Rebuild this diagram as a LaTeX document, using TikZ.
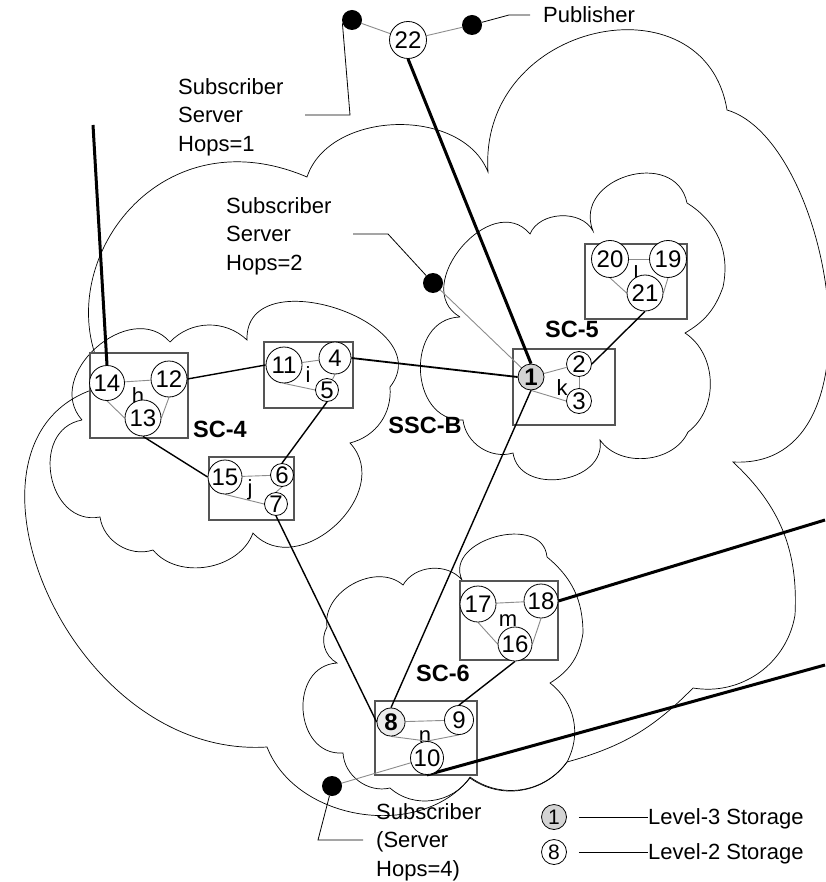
\documentclass[tikz,border=0pt]{standalone}
\usepackage{fontspec}
\setmainfont{Liberation Sans}
\definecolor{linkgray}{RGB}{140,140,140}
\definecolor{boxgray}{RGB}{85,85,85}
\definecolor{levthree}{RGB}{212,212,212}
\definecolor{levtwo}{RGB}{236,236,236}
\pgfdeclarelayer{clouds}
\pgfdeclarelayer{wires}
\pgfsetlayers{clouds,wires,main}
\tikzset{
  stor/.style={circle, draw, fill=white, inner sep=0.3pt, line width=0.8pt,
    font=\fontsize{24}{26}\selectfont},
  hub/.style={stor, font=\fontsize{24}{26}\selectfont\bfseries},
  peer/.style={circle, fill=black, minimum size=20pt, inner sep=0pt},
  grp/.style={draw=boxgray, fill=white, line width=1.2pt},
  cloudline/.style={line width=0.7pt},
  lobe/.style 2 args={bend left=#1, looseness=#2},
  link/.style={draw=linkgray, line width=0.9pt},
  trunk/.style={line width=1.4pt},
  backbone/.style={line width=3pt},
  lead/.style={line width=0.8pt},
  tag/.style={font=\fontsize{22}{28.5}\selectfont, inner sep=0pt},
  sclabel/.style={font=\fontsize{23.5}{28}\selectfont\bfseries, inner sep=0pt},
}
\begin{document}
\begin{tikzpicture}[x=1pt,y=-1pt]
    \useasboundingbox (0,0) rectangle (825,882);
    % Free ends of the long links and of the leaders
    \coordinate (ext-a) at (93,125);
    \coordinate (ext-b) at (825,520);
    \coordinate (ext-c) at (825,665);
    \coordinate (pub-knee) at (509,15);
    \coordinate (pub-end) at (530,15);
    \coordinate (h1-knee) at (350,115);
    \coordinate (h1-end) at (305,115);
    \coordinate (h2-end) at (353,234);
    \coordinate (h2-knee) at (388,234);
    \coordinate (h4-knee) at (318,840);
    \coordinate (h4-end) at (363,840);
    % Storage nodes
    \node[stor, minimum size=37pt] (n22) at (408,40) {22};
    \node[hub, minimum size=26pt, fill=levthree] (n1) at (531,377) {1};
    \node[stor, minimum size=25pt] (n2) at (579,364) {2};
    \node[stor, minimum size=25pt] (n3) at (579,401) {3};
    \node[stor, minimum size=37pt] (n20) at (610,259) {20};
    \node[stor, minimum size=37pt] (n19) at (668,259) {19};
    \node[tag] (lb-l) at (636,274) {l};
    \node[stor, minimum size=36pt] (n21) at (645,293) {21};
    \node[stor, minimum size=35pt] (n14) at (107,383) {14};
    \node[stor, minimum size=36pt] (n12) at (169,379) {12};
    \node[stor, minimum size=36pt] (n13) at (143,418) {13};
    \node[stor, minimum size=36pt] (n11) at (284,365) {11};
    \node[stor, minimum size=32pt] (n4) at (335,358) {4};
    \node[stor, minimum size=23pt] (n5) at (327,390) {5};
    \node[stor, minimum size=34pt] (n15) at (225,477) {15};
    \node[stor, minimum size=23pt] (n6) at (282,475) {6};
    \node[stor, minimum size=23pt] (n7) at (276,504) {7};
    \node[stor, minimum size=36pt] (n17) at (478,604) {17};
    \node[stor, minimum size=34pt] (n18) at (541,601) {18};
    \node[stor, minimum size=34pt] (n16) at (515,644) {16};
    \node[hub, minimum size=28pt, fill=levtwo] (n8) at (391,722) {8};
    \node[stor, minimum size=29pt] (n9) at (459,720) {9};
    \node[stor, minimum size=33pt] (n10) at (427,758) {10};
    % Publisher and subscribers
    \node[peer] (d-sub1) at (352,20) {};
    \node[peer] (d-pub) at (472,25) {};
    \node[peer] (d-sub2) at (433,283) {};
    \node[peer] (d-sub4) at (332,786) {};
    \node[tag, anchor=base west] (t-pub) at (543,23) {Publisher};
    \node[tag, anchor=north west, align=left] (t-hop1) at (178,78) {Subscriber\\Server\\Hops=1};
    \node[tag, anchor=north west, align=left] (t-hop2) at (226,197) {Subscriber\\Server\\Hops=2};
    \node[tag, anchor=north west, align=left] (t-hop4) at (376,803) {Subscriber\\(Server\\Hops=4)};
    % Cluster names
    \node[sclabel] (sc4) at (220,429) {SC-4};
    \node[sclabel] (sc5) at (572,329) {SC-5};
    \node[sclabel] (sscb) at (425,425) {SSC-B};
    \node[sclabel] (sc6) at (443,673) {SC-6};
    % Legend
    \node[hub, minimum size=25pt, fill=levthree, font=\fontsize{21}{22}\selectfont] (lg3) at (554,817) {1};
    \node[stor, minimum size=25pt, font=\fontsize{21}{22}\selectfont] (lg2) at (554,852) {8};
    \node[tag, anchor=base west] (t-lev3) at (648,824) {Level-3 Storage};
    \node[tag, anchor=base west] (t-lev2) at (648,859) {Level-2 Storage};

    \begin{pgfonlayer}{clouds}
    % SSC-B cloud
    \draw[cloudline] (110,385) .. controls (40,280) and (150,110) .. (307,177)
        to[lobe={70}{1}] (488,172)
        .. controls (478,20) and (705,-25) .. (727,110)
        .. controls (830,140) and (890,470) .. (733,462)
        to[lobe={25}{1}] (795,615)
        to[lobe={45}{1}] (693,688)
        to[lobe={15}{1}] (567,762)
        to[lobe={45}{1}] (470,778)
        to[lobe={60}{1}] (267,747)
        .. controls (60,760) and (-70,420) .. (110,385);
    % SC-4 cloud
    \draw[cloudline] (82,420) to[lobe={90}{1.3}] (170,342) to[lobe={45}{1}] (247,340)
        to[lobe={110}{1.4}] (390,387) to[lobe={40}{1}] (350,443)
        to[lobe={90}{1.3}] (253,533) to[lobe={60}{1}] (153,550)
        to[lobe={50}{1}] (100,517) to[lobe={90}{1.4}] (82,420);
    % SC-5 cloud
    \draw[cloudline] (460,317) to[lobe={100}{1.4}] (530,234) to[lobe={65}{1}] (593,231)
        to[lobe={95}{1.5}] (687,203) to[lobe={35}{1}] (723,287)
        to[lobe={20}{1}] (685,333) to[lobe={55}{1}] (688,432)
        to[lobe={60}{1}] (600,440) to[lobe={90}{1.28}] (513,453)
        to[lobe={50}{1}] (463,420) to[lobe={90}{1.36}] (460,317);
    % SC-6 cloud
    \draw[cloudline] (327,627) to[lobe={70}{1.05}] (403,585) to[lobe={55}{1}] (462,580)
        to[lobe={100}{1.3}] (547,557) to[lobe={25}{1}] (583,633)
        to[lobe={25}{1}] (550,683) to[lobe={40}{1}] (567,762)
        to[lobe={45}{1}] (470,777) to[lobe={50}{1}] (390,788)
        to[lobe={50}{1}] (343,753) to[lobe={90}{1.4}] (337,663)
        to[lobe={45}{1}] (327,627);
    % Groups h to n
    \draw[grp] (90,353) rectangle (188,438);
    \draw[grp] (264,342) rectangle (353,408);
    \draw[grp] (209,457) rectangle (294,520);
    \draw[grp] (513,349) rectangle (615,425);
    \draw[grp] (585,244) rectangle (687,319);
    \draw[grp] (460,581) rectangle (558,660);
    \draw[grp] (375,701) rectangle (477,775);
    \node[tag] (lb-h) at (138,396) {h};
    \node[tag] (lb-i) at (308,375) {i};
    \node[tag] (lb-j) at (250,490) {j};
    \node[tag] (lb-k) at (562,388) {k};
    \node[tag] (lb-m) at (508,621) {m};
    \node[tag] (lb-n) at (425,737) {n};
    \end{pgfonlayer}

    \begin{pgfonlayer}{wires}
    % Links inside the groups
    \draw[link] (n14) -- (n12);
    \draw[link] (n14.south) -- (n13.west);
    \draw[link] (n12.south) -- (n13.east);
    \draw[link] (n11) -- (n4);
    \draw[link] (n11.south) -- (n5.west);
    \draw[link] (n4.south) -- (n5);
    \draw[link] (n15) -- (n6);
    \draw[link] (n15.south) -- (n7.west);
    \draw[link] (n6.south) -- (n7.north);
    \draw[link] (n1) -- (n2);
    \draw[link] (n1.south) -- (n3.west);
    \draw[link] (n2.south) -- (n3.north);
    \draw[link] (n20) -- (n19);
    \draw[link] (n20.south) -- (n21.west);
    \draw[link] (n19.south) -- (n21.east);
    \draw[link] (n17) -- (n18);
    \draw[link] (n17.south) -- (n16.west);
    \draw[link] (n18.south) -- (n16.east);
    \draw[link] (n8) -- (n9);
    \draw[link] (n8.south) -- (n10.north);
    \draw[link] (n9.south) -- (n10.north);
    % Subscriber and publisher links
    \draw[link] (d-sub1) -- (n22);
    \draw[link] (n22) -- (d-pub);
    \draw[link] (d-sub2) -- (n1);
    \draw[link] (d-sub4.center) -- (n10);
    % Links between the groups
    \draw[trunk] (n12.east) -- (n11.west);
    \draw[trunk, line width=1.8pt] (n4.east) -- (n1.west);
    \draw[trunk] (n13.south) -- (n15.west);
    \draw[trunk] (n5.south) -- (n6.north);
    \draw[trunk] (n7.south) -- (n8.west);
    \draw[trunk] (n1.south) -- (n8.north);
    \draw[trunk] (n21.south) -- (n2.east);
    \draw[trunk] (n16.south) -- (n9.north);
    \draw[backbone] (n22.south) -- (n1.north);
    \draw[backbone] (ext-a) -- (n14.north);
    \draw[backbone] (n18.east) -- (ext-b);
    \draw[backbone] (n10.south) -- (ext-c);
    % Leaders
    \draw[lead] (d-pub) -- (pub-knee) -- (pub-end);
    \draw[lead] (d-sub1.200) -- (h1-knee) -- (h1-end);
    \draw[lead] (h2-end) -- (h2-knee) -- (d-sub2);
    \draw[lead] (d-sub4) -- (h4-knee) -- (h4-end);
    \draw[lead, shorten <=12pt] (lg3.east) -- (lg3.east -| t-lev3.west);
    \draw[lead, shorten <=12pt] (lg2.east) -- (lg2.east -| t-lev2.west);
    \end{pgfonlayer}
\end{tikzpicture}
\end{document}
